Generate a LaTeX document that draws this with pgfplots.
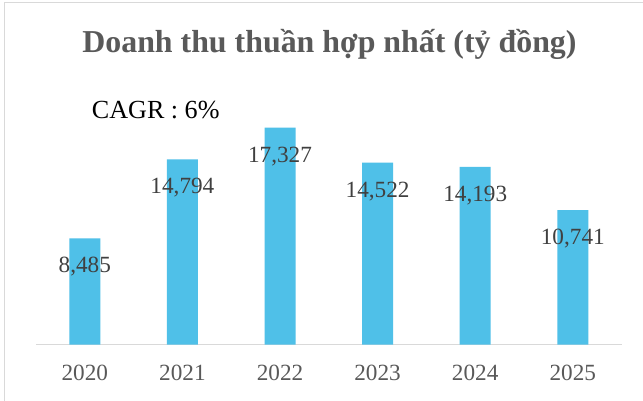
\documentclass[border=0pt]{standalone}
\usepackage{fontspec}
\setmainfont{Liberation Serif}
\usepackage{pgfplots}
\pgfplotsset{compat=1.18}
\definecolor{barblue}{RGB}{79,192,232}
\definecolor{titlegray}{RGB}{89,89,89}
\definecolor{labelgray}{RGB}{64,64,64}
\definecolor{framegray}{RGB}{217,217,217}
\begin{document}
\begin{tikzpicture}
\path[use as bounding box, fill=white] (-36bp,-56.5bp) rectangle (607bp,344.5bp);
\draw[framegray, line width=1bp] (-31bp,-56.5bp) -- (-31bp,341.5bp) -- (607bp,341.5bp);
\begin{axis}[
  at={(0,0)}, anchor=south west,
  scale only axis,
  width=585.6bp, height=250.4bp,
  xmin=-0.5, xmax=5.5,
  ymin=0, ymax=20000,
  hide y axis,
  axis x line*=bottom,
  axis line style={draw=framegray, line width=1.2bp},
  major tick length=0pt,
  xtick=data,
  xticklabels={2020,2021,2022,2023,2024,2025},
  xticklabel style={anchor=base, yshift=-35.5bp, text=titlegray,
    font=\fontsize{23.3}{23.3}\selectfont},
  ybar, bar width=31bp,
  clip=false,
  /pgf/number format/.cd, 1000 sep={,}, assume math mode=true,
]
\addplot[fill=barblue, draw=none,
  nodes near coords,
  nodes near coords style={anchor=base, yshift=-34.7bp, text=labelgray,
    font=\fontsize{23.3}{23.3}\selectfont}]
  coordinates {(0,8485) (1,14794) (2,17327) (3,14522) (4,14193) (5,10741)};
\end{axis}
\node[anchor=base, inner sep=0pt, text=titlegray,
  font=\bfseries\fontsize{32}{32}\selectfont] at (293.5bp,291.8bp)
  {Doanh thu thuần hợp nhất (tỷ đồng)};
\node[anchor=base west, inner sep=0pt,
  font=\fontsize{26.2}{26.2}\selectfont] at (55.7bp,226.2bp) {CAGR : 6\%};
\end{tikzpicture}
\end{document}
